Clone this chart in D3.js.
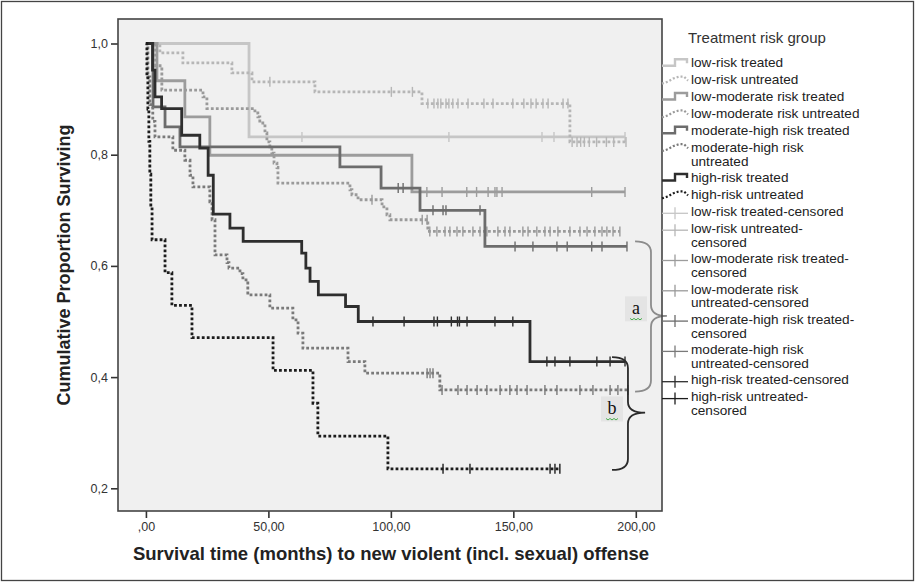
<!DOCTYPE html>
<html><head><meta charset="utf-8">
<script src="https://cdn.jsdelivr.net/npm/d3@7"></script>
<style>body{margin:0;background:#fff}svg{display:block}</style>
</head><body>
<svg id="c" width="916" height="583"></svg>
<script>
// ---------- DATA ----------
const groupNames = ["low-risk treated","low-risk untreated","low-moderate risk treated","low-moderate risk untreated",
  "moderate-high risk treated","moderate-high risk untreated","high-risk treated","high-risk untreated"];

const lowTreatedT = [0, 42.1, 195.6];
const lowTreatedS = [1, 0.832, 0.832];
const lowTreatedC = [63.7, 123.7, 161.7, 166.6, 195.6];

const lowUntreatedT = [0, 5.7, 15.1, 35.1, 43.3, 69.0, 112.7, 173.1, 196];
const lowUntreatedS = [1, 0.983, 0.965, 0.947, 0.931, 0.913, 0.892, 0.823, 0.823];
const lowUntreatedC = [50.6, 100.2, 108.8, 115.1, 117.6, 119.2, 120.4, 122.5, 123.7, 125.3, 127.4, 131.5, 138.0, 141.7,
  149.8, 154.3, 157.2, 159.3, 162.1, 164.2, 170.3, 172.3, 174, 176, 177.5, 179, 181, 184, 188, 191, 196];

const lowModTreatedT = [0, 4.5, 15.9, 26.1, 108.6, 195.6];
const lowModTreatedS = [1, 0.933, 0.868, 0.799, 0.733, 0.733];
const lowModTreatedC = [114.7, 120.9, 131, 135, 139.7, 142.5, 143.3, 145.4, 182, 195.6];

const lowModUntreatedT = [0, 4.0, 6.5, 23.3, 24.9, 44.5, 45.7, 46.5, 48.6, 49.4, 50.6, 51.4, 52.3, 53.5, 53.9,
  83.3, 84.1, 86.6, 96.4, 98.4, 99.6, 115.1, 193.5];
const lowModUntreatedS = [1, 0.96, 0.916, 0.904, 0.883, 0.875, 0.868, 0.857, 0.839, 0.823, 0.814, 0.803, 0.785, 0.777, 0.749,
  0.737, 0.728, 0.719, 0.706, 0.692, 0.683, 0.662, 0.662];
const lowModUntreatedC = [92.3, 112.8, 114.8, 115.9, 118.8, 122.1, 124.1, 127, 129.4, 133.5, 136.4, 139.2, 143.7, 146.6,
  148.6, 153.9, 156, 159.6, 162.9, 165, 168.2, 173.1, 177.2, 180.1, 183.3, 186.2, 188.2, 190.7, 193.5];

const modHighTreatedT = [0, 2.9, 7.8, 13.9, 79.2, 96.0, 111.9, 138.4, 196.4];
const modHighTreatedS = [1, 0.886, 0.850, 0.814, 0.778, 0.740, 0.700, 0.635, 0.635];
const modHighTreatedC = [103, 105, 117.2, 121.3, 122.5, 136.4, 150.7, 158, 167.8, 172, 182, 186.2, 196.4];

const modHighUntreatedT = [0, 0.8, 1.6, 2.8, 3.7, 11.0, 15.9, 18.0, 19.2, 26.1, 27.0, 28.2, 33.1, 33.9, 38.4, 39.6, 41.6,
  50.6, 60.0, 62.1, 64.1, 82.5, 89.4, 120.0, 196.8];
const modHighUntreatedS = [1, 0.94, 0.89, 0.86, 0.832, 0.808, 0.790, 0.763, 0.742, 0.715, 0.683, 0.620, 0.606, 0.596, 0.586, 0.575, 0.548,
  0.524, 0.503, 0.479, 0.452, 0.428, 0.407, 0.377, 0.377];
const modHighUntreatedC = [114.8, 116.0, 117.2, 120.9, 127.4, 131.1, 135.2, 139.2, 144.6, 148.6, 151.5, 155.6, 162.9,
  167.8, 177.2, 182.5, 189.5, 192.7, 196.8];

const highTreatedT = [0, 2.7, 3.7, 6.4, 14.6, 22.0, 25.4, 27.5, 34.3, 39.7, 63.6, 65.3, 67.0, 70.4, 81.5, 86.7, 156.8, 195.6];
const highTreatedS = [1, 0.952, 0.904, 0.883, 0.835, 0.812, 0.763, 0.693, 0.668, 0.644, 0.623, 0.596, 0.572, 0.548, 0.527, 0.500, 0.428, 0.428];
const highTreatedC = [92.7, 105.4, 117.6, 119, 124.7, 127.2, 128, 131.1, 142.5, 149.8, 163.7, 167, 173.1, 184.1, 189.5, 195.6];

const highUntreatedT = [0, 0.4, 0.8, 1.2, 1.6, 2.0, 2.5, 7.8, 10.6, 18.8, 51.9, 68.2, 70.2, 98.8, 169];
const highUntreatedS = [1, 0.941, 0.882, 0.824, 0.765, 0.706, 0.647, 0.588, 0.529, 0.471, 0.412, 0.353, 0.294, 0.235, 0.235];
const highUntreatedC = [121.3, 132.3, 165, 167, 169];

const xTickVals = [0, 50, 100, 150, 200];
const xTickLabels = [",00", "50,00", "100,00", "150,00", "200,00"];
const yTickVals = [0.2, 0.4, 0.6, 0.8, 1.0];
const yTickLabels = ["0,2", "0,4", "0,6", "0,8", "1,0"];

const legendTitle = "Treatment risk group";
const legendLabels = [
  ["low-risk treated"], ["low-risk untreated"], ["low-moderate risk treated"], ["low-moderate risk untreated"],
  ["moderate-high risk treated"], ["moderate-high risk", "untreated"], ["high-risk treated"], ["high-risk untreated"],
  ["low-risk treated-censored"], ["low-risk untreated-", "censored"], ["low-moderate risk treated-", "censored"],
  ["low-moderate risk", "untreated-censored"], ["moderate-high risk treated-", "censored"],
  ["moderate-high risk", "untreated-censored"], ["high-risk treated-censored"], ["high-risk untreated-", "censored"]
];

// annotation braces, in data units
const braceA = {t0: 199.7, tm: 206.2, tip: 212.7, top: 0.644, mid: 0.510, bot: 0.374, label: "a"};
const braceB = {t0: 190.3, tm: 196.8, tip: 203.8, top: 0.436, mid: 0.336, bot: 0.233, label: "b"};

// ---------- STYLE ----------
const colors = ["#c6c6c6", "#b6b6b6", "#9c9c9c", "#9a9a9a", "#6c6c6c", "#7a7a7a", "#2e2e2e", "#1c1c1c"];
const dotted = [false, true, false, true, false, true, false, true];

const series = [
  [lowTreatedT, lowTreatedS, lowTreatedC],
  [lowUntreatedT, lowUntreatedS, lowUntreatedC],
  [lowModTreatedT, lowModTreatedS, lowModTreatedC],
  [lowModUntreatedT, lowModUntreatedS, lowModUntreatedC],
  [modHighTreatedT, modHighTreatedS, modHighTreatedC],
  [modHighUntreatedT, modHighUntreatedS, modHighUntreatedC],
  [highTreatedT, highTreatedS, highTreatedC],
  [highUntreatedT, highUntreatedS, highUntreatedC]
];

const svg = d3.select("#c");
const font = "'Liberation Sans', Arial, sans-serif";
const P = {l: 118, r: 662, t: 19, b: 511};

const x = d3.scaleLinear().domain([-11.4, 210.7]).range([P.l, P.r]);
const y = d3.scaleLinear().domain([0.2, 1.0]).range([488.3, 43.5]);

// outer frame
svg.append("rect").attr("x", 1.5).attr("y", 1.5).attr("width", 912).attr("height", 579)
  .attr("fill", "#fff").attr("stroke", "#444").attr("stroke-width", 1.3);

// plot background
svg.append("rect").attr("x", P.l).attr("y", P.t).attr("width", P.r - P.l).attr("height", P.b - P.t)
  .attr("fill", "#f0f0f0");

// axes
const xAxis = d3.axisBottom(x).tickValues(xTickVals).tickFormat((d, i) => xTickLabels[i]).tickSize(7).tickSizeOuter(0).tickPadding(4);
const yAxis = d3.axisLeft(y).tickValues(yTickVals).tickFormat((d, i) => yTickLabels[i]).tickSize(7).tickSizeOuter(0).tickPadding(3);
const gx = svg.append("g").attr("transform", `translate(0,${P.b})`).call(xAxis);
const gy = svg.append("g").attr("transform", `translate(${P.l},0)`).call(yAxis);
[gx, gy].forEach(g => {
  g.select(".domain").remove();
  g.selectAll(".tick line").attr("stroke", "#333").attr("stroke-width", 1.6);
  g.selectAll(".tick text").attr("font-family", font).attr("font-size", 12.5).attr("fill", "#333");
});

// step curves
const line = d3.line().x(d => x(d[0])).y(d => y(d[1])).curve(d3.curveStepAfter);
const plot = svg.append("g");
series.forEach((s, i) => {
  const [T, S, C] = s;
  const pts = T.map((t, k) => [t, S[k]]);
  plot.append("path").attr("d", line(pts)).attr("fill", "none")
    .attr("stroke", colors[i]).attr("stroke-width", 2.8)
    .attr("stroke-dasharray", dotted[i] ? "2.8,2.2" : null);
  C.forEach(c => {
    let k = 0;
    for (let j = 0; j < T.length; j++) if (T[j] <= c) k = j;
    plot.append("line").attr("x1", x(c)).attr("x2", x(c))
      .attr("y1", y(S[k]) - 5).attr("y2", y(S[k]) + 5)
      .attr("stroke", colors[i]).attr("stroke-width", 1.4);
  });
});

// braces
function brace(b, color) {
  const x0 = x(b.t0), xm = x(b.tm), xt = x(b.tip);
  const yt = y(b.top), ymid = y(b.mid), yb = y(b.bot), r = 11;
  const d = `M${x0},${yt} Q${xm},${yt} ${xm},${yt + r} L${xm},${ymid - r} Q${xm},${ymid} ${xt},${ymid}` +
    ` Q${xm},${ymid} ${xm},${ymid + r} L${xm},${yb - r} Q${xm},${yb} ${x0},${yb}`;
  svg.append("path").attr("d", d).attr("fill", "none").attr("stroke", color).attr("stroke-width", 1.8);
}
brace(braceA, "#8c8c8c");
brace(braceB, "#2a2a2a");
function b2t(px) { return (px - x(0)) / (x(1) - x(0)); }
function label(b, lx, ly) {
  svg.append("rect").attr("x", lx - 11).attr("y", ly - 14).attr("width", 22).attr("height", 25).attr("fill", "#e4e4e4");
  svg.append("text").attr("x", lx).attr("y", ly + 4).attr("text-anchor", "middle")
    .attr("font-family", "'Liberation Serif', 'Times New Roman', serif").attr("font-size", 18).attr("fill", "#111").text(b.label);
  let p = `M${lx - 6},${ly + 8}`;
  for (let k = 1; k <= 6; k++) p += ` L${lx - 6 + k * 2},${ly + 8 + (k % 2 ? 1.5 : 0)}`;
  svg.append("path").attr("d", p).attr("fill", "none").attr("stroke", "#4caf50").attr("stroke-width", 1);
}
label(braceA, x(b2t(636)), y(0.52));
label(braceB, x(b2t(612)), y(0.34));

// plot border
svg.append("rect").attr("x", P.l).attr("y", P.t).attr("width", P.r - P.l).attr("height", P.b - P.t)
  .attr("fill", "none").attr("stroke", "#444").attr("stroke-width", 1.6);

// axis titles
svg.append("text").attr("x", 391).attr("y", 560).attr("text-anchor", "middle")
  .attr("font-family", font).attr("font-weight", "bold").attr("font-size", 18.5).attr("fill", "#222")
  .text("Survival time (months) to new violent (incl. sexual) offense");
svg.append("text").attr("transform", "translate(70,265) rotate(-90)").attr("text-anchor", "middle")
  .attr("font-family", font).attr("font-weight", "bold").attr("font-size", 18).attr("fill", "#222")
  .text("Cumulative Proportion Surviving");

// legend
const lg = svg.append("g");
lg.append("text").attr("x", 688).attr("y", 43).attr("font-family", font).attr("font-size", 15).attr("fill", "#333").text(legendTitle);
let ly = 62.7;
legendLabels.forEach((lines, i) => {
  const gi = i % 8, cens = i >= 8;
  const col = colors[gi];
  if (!cens) {
    if (!dotted[gi]) {
      lg.append("path").attr("d", `M662,${ly + 3} H675 V${ly - 3.5} H687 V${ly + 0.5}`)
        .attr("fill", "none").attr("stroke", col).attr("stroke-width", 2.4);
    } else {
      lg.append("path").attr("d", `M662,${ly + 4} L668,${ly + 2} L673,${ly - 1} L679,${ly - 3} L684,${ly - 3} L688,${ly + 1}`)
        .attr("fill", "none").attr("stroke", col).attr("stroke-width", 2.2).attr("stroke-dasharray", "2,2");
    }
  } else {
    lg.append("line").attr("x1", 662).attr("x2", 688).attr("y1", ly + 2).attr("y2", ly + 2).attr("stroke", col).attr("stroke-width", 1.3);
    lg.append("line").attr("x1", 675).attr("x2", 675).attr("y1", ly - 4).attr("y2", ly + 8).attr("stroke", col).attr("stroke-width", 1.3);
  }
  lines.forEach((t, k) => {
    lg.append("text").attr("x", 691).attr("y", ly + k * 13.7).attr("dy", "0.35em")
      .attr("font-family", font).attr("font-size", 13.6).attr("fill", "#222").text(t);
  });
  ly += lines.length > 1 ? 30.3 : 16.9;
});
</script>
</body></html>
